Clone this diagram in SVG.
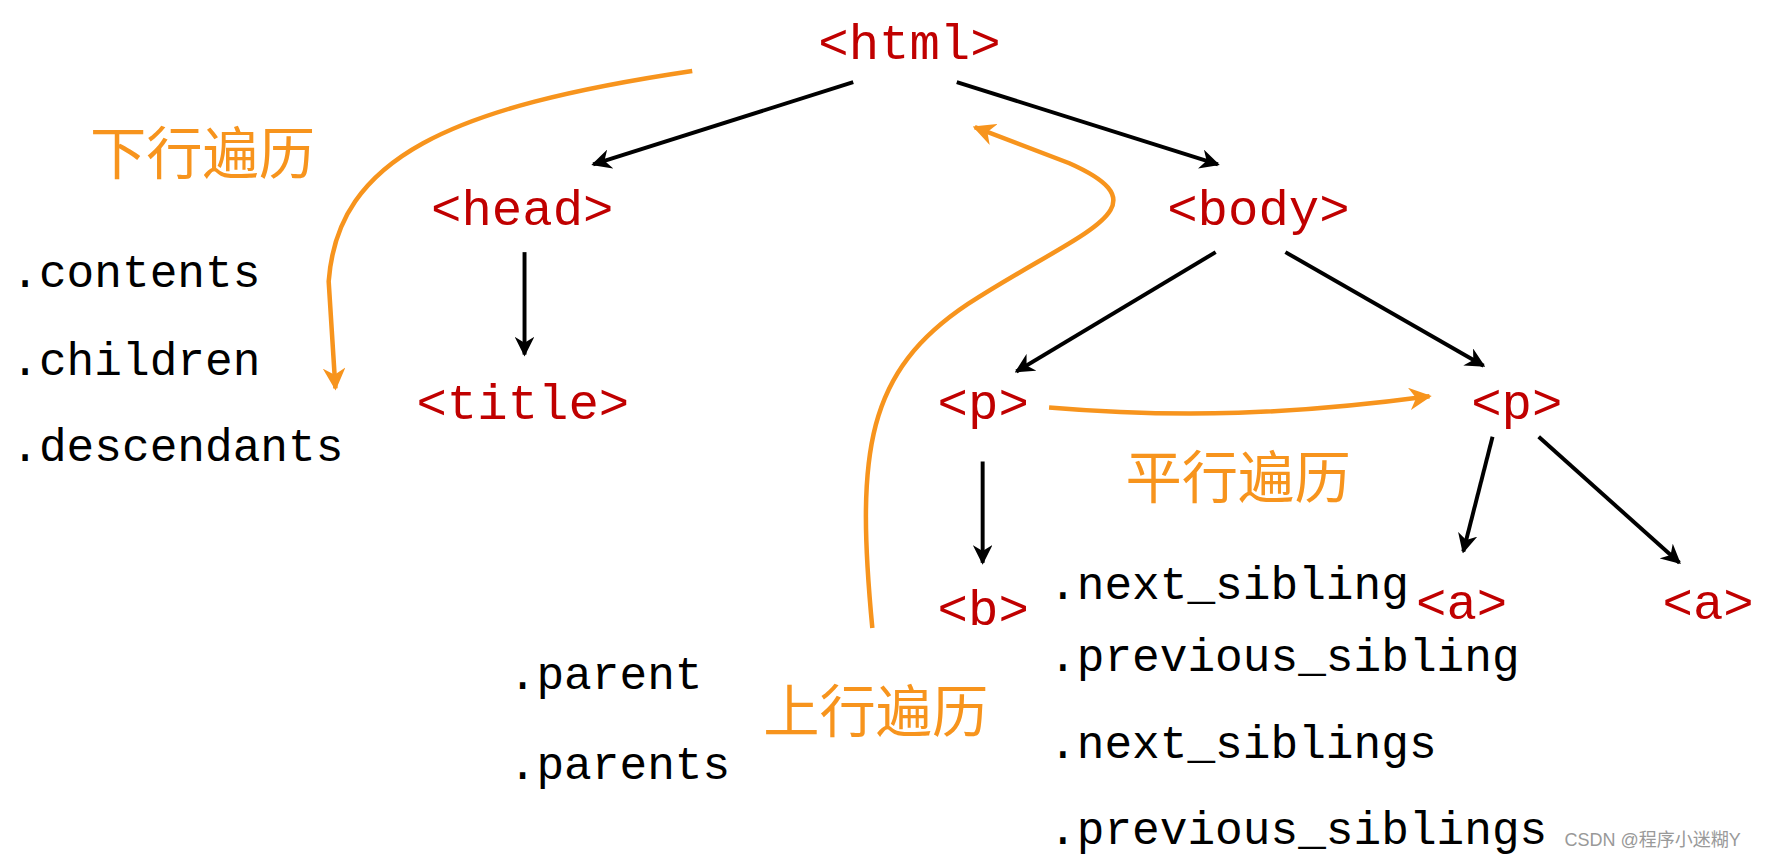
<svg xmlns="http://www.w3.org/2000/svg" width="1765" height="861" viewBox="0 0 1765 861">
<defs>
<marker id="ab" viewBox="0 0 10 10" refX="9" refY="5" markerWidth="5" markerHeight="5" orient="auto"><path d="M0,0 L10,5 L0,10 L3,5 z" fill="#000"/></marker>
<marker id="ao" viewBox="0 0 10 10" refX="9" refY="5" markerWidth="5" markerHeight="5" orient="auto"><path d="M0,0 L10,5 L0,10 L3,5 z" fill="#f7941d"/></marker>
<style>
.n{font-family:"Liberation Mono",monospace;font-size:45px;fill:#c00000}
.m{font-family:"Liberation Mono",monospace;font-size:41px;fill:#000}
.o{font-family:"Noto Sans CJK SC",sans-serif;font-size:50px;fill:#f7941d}
.b{stroke:#000;stroke-width:3.5;fill:none;marker-end:url(#ab)}
.c{stroke:#f7941d;stroke-width:4;fill:none;marker-end:url(#ao)}
</style>
</defs>
<rect width="1765" height="861" fill="#fff"/>
<g transform="scale(1.1256)">
<g id="connectors">
<line class="b" x1="758" y1="73" x2="527" y2="146"/>
<line class="b" x1="850" y1="73" x2="1082" y2="146"/>
<line class="b" x1="466" y1="224" x2="466" y2="315"/>
<line class="b" x1="1080" y1="224" x2="903" y2="330"/>
<line class="b" x1="1142" y1="224" x2="1318" y2="325"/>
<line class="b" x1="873" y1="410" x2="873" y2="500"/>
<line class="b" x1="1326" y1="388" x2="1300" y2="490"/>
<line class="b" x1="1367" y1="388" x2="1492" y2="500"/>
<path class="c" d="M615,63 C400,95 300,140 292,250 L298,345"/>
<path class="c" d="M775,558 C760,400 770,330 860,270 C960,205 1040,185 950,145 L866,113"/>
<path class="c" d="M932,362 C1050,372 1150,368 1270,352"/>
</g>
<g id="html"><text class="n" x="727" y="52">&lt;html&gt;</text></g>
<g id="head"><text class="n" x="383" y="200">&lt;head&gt;</text></g>
<g id="body"><text class="n" x="1037" y="200">&lt;body&gt;</text></g>
<g id="title"><text class="n" x="370" y="372">&lt;title&gt;</text></g>
<g id="p1"><text class="n" x="833" y="372">&lt;p&gt;</text></g>
<g id="p2"><text class="n" x="1307" y="372">&lt;p&gt;</text></g>
<g id="b"><text class="n" x="833" y="555">&lt;b&gt;</text></g>
<g id="a1"><text class="n" x="1258" y="550">&lt;a&gt;</text></g>
<g id="a2"><text class="n" x="1477" y="550">&lt;a&gt;</text></g>
<g id="labels">
<text class="m" x="10" y="255">.contents</text>
<text class="m" x="10" y="333">.children</text>
<text class="m" x="10" y="410">.descendants</text>
<text class="m" x="452" y="612">.parent</text>
<text class="m" x="452" y="692">.parents</text>
<text class="m" x="932" y="532">.next_sibling</text>
<text class="m" x="932" y="596">.previous_sibling</text>
<text class="m" x="932" y="673">.next_siblings</text>
<text class="m" x="932" y="750">.previous_siblings</text>
<text class="o" x="80" y="155">下行遍历</text>
<text class="o" x="1000" y="442">平行遍历</text>
<text class="o" x="678" y="650">上行遍历</text>
<text x="1390" y="752" font-family="Liberation Sans,'Noto Sans CJK SC',sans-serif" font-size="16" fill="#999">CSDN @程序小迷糊Y</text>
</g>
</g>
</svg>
